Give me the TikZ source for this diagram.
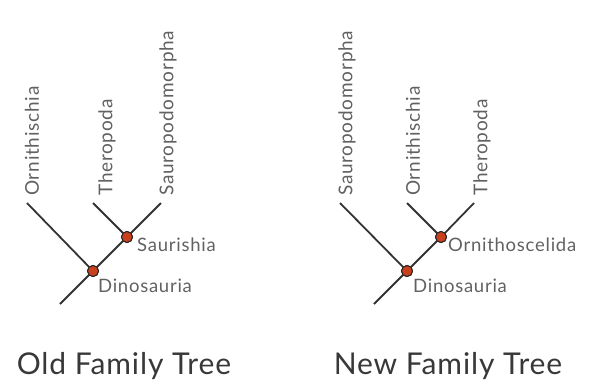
\documentclass[tikz,border=0pt]{standalone}
\usepackage{fontspec}
\setmainfont{Lato}
\newfontfamily\lblfont[LetterSpace=4]{Lato}
\newfontfamily\ttlfont[LetterSpace=3]{Lato}
\begin{document}
\begin{tikzpicture}[x=1pt,y=-1pt,
  branch/.style={draw=black!80, line width=1.8pt},
  dot/.style={circle, fill={rgb,255:red,200;green,64;blue,28}, draw=black!85, line width=1pt, inner sep=0pt, minimum size=11pt},
  taxon/.style={rotate=90, anchor=west, inner sep=0pt, text=black!62, font=\lblfont\fontsize{19}{19}\selectfont},
  clade/.style={anchor=north west, inner sep=0pt, text=black!62, font=\lblfont\fontsize{18.5}{18.5}\selectfont},
  title/.style={anchor=north, inner sep=0pt, text=black!78, font=\ttlfont\fontsize{30}{30}\selectfont}]
\useasboundingbox (0,0) rectangle (589,383);
% ---------- Old tree ----------
\coordinate (oroot) at (60,304);
\coordinate (oorn) at (27,203);
\coordinate (othe) at (93,203);
\coordinate (osau) at (161,203);
\node[dot] (odino) at (93,271) {};
\node[dot] (osaur) at (127,237) {};
\draw[branch] (oroot) -- (odino.center) -- (osaur.center) -- (osau);
\draw[branch] (oorn) -- (odino.center);
\draw[branch] (othe) -- (osaur.center);
\node[dot] at (odino) {};
\node[dot] at (osaur) {};
\node[taxon] (lorn) at (32,196) {Ornithischia};
\node[taxon] (lthe) at (107,196) {Theropoda};
\node[taxon] (lsau) at (168,196) {Sauropodomorpha};
\node[clade] (lsaur) at (137,238) {Saurishia};
\node[clade] (ldino) at (98,279) {Dinosauria};
\node[title] (otitle) at (124,352) {Old Family Tree};
% ---------- New tree ----------
\coordinate (nroot) at (374,304);
\coordinate (nsau) at (340,203);
\coordinate (norn) at (407,203);
\coordinate (nthe) at (474,203);
\node[dot] (ndino) at (407,271) {};
\node[dot] (nornith) at (441,237) {};
\draw[branch] (nroot) -- (ndino.center) -- (nornith.center) -- (nthe);
\draw[branch] (nsau) -- (ndino.center);
\draw[branch] (norn) -- (nornith.center);
\node[dot] at (ndino) {};
\node[dot] at (nornith) {};
\node[taxon] (msau) at (347,196) {Sauropodomorpha};
\node[taxon] (morn) at (413,196) {Ornithischia};
\node[taxon] (mthe) at (482,196) {Theropoda};
\node[clade] (mornith) at (448,238) {Ornithoscelida};
\node[clade] (mdino) at (413,279) {Dinosauria};
\node[title] (ntitle) at (448,352) {New Family Tree};
\end{tikzpicture}
\end{document}
